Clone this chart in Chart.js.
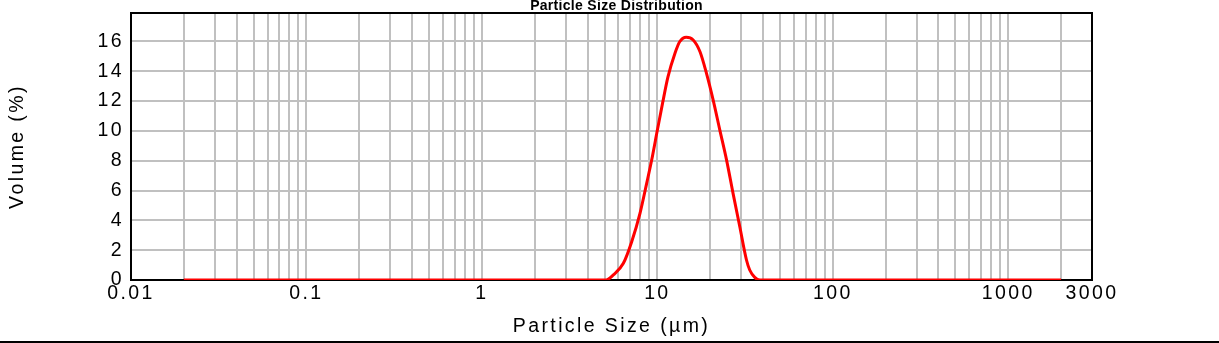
<!DOCTYPE html>
<html>
<head>
<meta charset="utf-8">
<title>Particle Size Distribution</title>
<script src="https://cdn.jsdelivr.net/npm/chart.js@4"></script>
<style>
  html, body { margin: 0; padding: 0; background: #fff; }
  canvas { display: block; }
</style>
</head>
<body>
<canvas id="psd" width="1219" height="343"></canvas>
<script>
// particle size (µm) and volume (%) of the measured distribution
const sizes = [0.02, 5.1, 5.61, 6.4, 7.14, 7.96, 8.69, 9.28, 10.0, 10.7, 11.5, 12.6, 13.4, 14.6,
               16.0, 17.5, 19.05, 20.8, 22.7, 24.8, 27.0, 29.5, 32.2, 33.6, 35.9, 38.4, 2000];
const volume = [0, 0, 0.34, 1.12, 2.57, 4.47, 6.48, 8.04, 10.05, 11.84, 13.63, 15.2, 15.97, 16.27,
                16.09, 15.3, 13.85, 12.06, 10.05, 8.04, 5.81, 3.57, 1.34, 0.67, 0.18, 0, 0];

const xTickLabels = [0.01, 0.1, 1, 10, 100, 1000, 3000];
const yTickValues = [0, 2, 4, 6, 8, 10, 12, 14, 16];
const chartTitle = 'Particle Size Distribution';

// log grid: 1..9 per decade, up to 3000
const decades = [0.01, 0.1, 1, 10, 100, 1000];
const xGrid = [];
decades.forEach(d => {
  for (let m = 1; m <= 9; m++) {
    const v = +(d * m).toPrecision(3);
    if (v <= 3000) xGrid.push(v);
  }
});

const FONT = 'Liberation Sans, Arial, sans-serif';
const SPACING = '2.4px';

// wide tracking on axis texts, plot frame, small bold title, rule under the chart
const framePlugin = {
  id: 'frame',
  beforeLayout(chart) { chart.ctx.letterSpacing = SPACING; },
  beforeDraw(chart) { chart.ctx.letterSpacing = SPACING; },
  beforeDatasetsDraw(chart) {
    const { ctx, chartArea: a } = chart;
    ctx.save();
    ctx.strokeStyle = '#000';
    ctx.lineWidth = 2;
    ctx.strokeRect(a.left, a.top, a.right - a.left, a.bottom - a.top);
    ctx.restore();
  },
  afterDraw(chart) {
    const { ctx, width, chartArea: a } = chart;
    ctx.save();
    ctx.letterSpacing = '0.3px';
    ctx.fillStyle = '#000';
    ctx.font = 'bold 14px ' + FONT;
    ctx.textAlign = 'center';
    ctx.textBaseline = 'alphabetic';
    ctx.fillText(chartTitle, (a.left + a.right) / 2 + 5, 9.5);
    ctx.fillRect(0, 341, width, 2);
    ctx.restore();
  }
};

const points = sizes.map((s, i) => ({ x: s, y: volume[i] }));

new Chart(document.getElementById('psd'), {
  type: 'line',
  data: {
    datasets: [{
      data: points,
      borderColor: '#ff0000',
      borderWidth: 3,
      pointRadius: 0,
      fill: false,
      cubicInterpolationMode: 'monotone'
    }]
  },
  options: {
    responsive: false,
    animation: false,
    devicePixelRatio: 1,
    layout: { padding: { left: 0, right: 127, top: 13, bottom: 0 } },
    plugins: {
      legend: { display: false },
      tooltip: { enabled: false },
      title: { display: false }
    },
    scales: {
      x: {
        type: 'logarithmic',
        min: 0.01,
        max: 3000,
        afterBuildTicks: s => { s.ticks = xGrid.map(v => ({ value: v })); },
        afterFit: s => { s.height = 63; s.paddingLeft = 0; s.paddingRight = 0; },
        grid: { color: '#c0c0c0', lineWidth: 2, drawTicks: false },
        border: { color: '#000', width: 2 },
        ticks: {
          autoSkip: false,
          maxRotation: 0,
          padding: 2,
          color: '#000',
          font: { family: FONT, size: 19.5 },
          callback: v => {
            const hit = xTickLabels.find(t => Math.abs(t - v) < t * 1e-6);
            return hit !== undefined ? String(hit) : '';
          }
        },
        title: {
          display: true,
          text: 'Particle Size (µm)',
          color: '#000',
          font: { family: FONT, size: 19.5 },
          padding: { top: 0, bottom: 5 }
        }
      },
      y: {
        min: 0,
        max: 17.9,
        afterBuildTicks: s => { s.ticks = yTickValues.map(v => ({ value: v })); },
        afterFit: s => { s.width = 131; s.paddingTop = 0; s.paddingBottom = 0; },
        grid: { color: '#c0c0c0', lineWidth: 2, drawTicks: false },
        border: { color: '#000', width: 2 },
        ticks: {
          padding: 7,
          color: '#000',
          font: { family: FONT, size: 19.5 }
        },
        title: {
          display: true,
          text: 'Volume (%)',
          color: '#000',
          font: { family: FONT, size: 19.5 },
          padding: { top: 5.5, bottom: 0 }
        }
      }
    }
  },
  plugins: [framePlugin]
});
</script>
</body>
</html>
